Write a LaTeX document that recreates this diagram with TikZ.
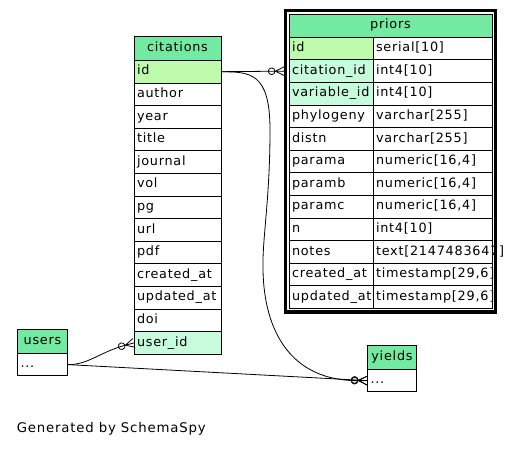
\documentclass[tikz,border=0pt]{standalone}
\usepackage{fontspec}
\setmainfont{DejaVu Sans}[LetterSpace=6]
\usepackage{xcolor}
\usetikzlibrary{arrows.meta,positioning,fit}

\definecolor{headgreen}{HTML}{73EAA1}
\definecolor{pkgreen}{HTML}{BEFBAD}
\definecolor{fkgreen}{HTML}{C6FCDB}

% crow's foot tip for the "many" end
\pgfdeclarearrow{
  name=Crow,
  parameters={\the\pgfarrowlength,\the\pgfarrowwidth},
  setup code={
    \pgfarrowssettipend{0pt}
    \pgfarrowssetbackend{-\pgfarrowlength}
    \pgfarrowssetlineend{-\pgfarrowlength}
    \pgfarrowssetvisualbackend{-\pgfarrowlength}
    \pgfarrowshullpoint{0pt}{.5\pgfarrowwidth}
    \pgfarrowshullpoint{0pt}{-.5\pgfarrowwidth}
    \pgfarrowshullpoint{-\pgfarrowlength}{0pt}
    \pgfarrowssavethe\pgfarrowlength
    \pgfarrowssavethe\pgfarrowwidth
  },
  drawing code={
    \pgfsetdash{}{0pt}
    \pgfpathmoveto{\pgfqpoint{0pt}{.5\pgfarrowwidth}}
    \pgfpathlineto{\pgfqpoint{-\pgfarrowlength}{0pt}}
    \pgfpathlineto{\pgfqpoint{0pt}{-.5\pgfarrowwidth}}
    \pgfpathmoveto{\pgfqpoint{-\pgfarrowlength}{0pt}}
    \pgfpathlineto{\pgfqpoint{0pt}{0pt}}
    \pgfusepathqstroke
  },
  defaults={length=9pt,width=9pt}
}

\begin{document}
\begin{tikzpicture}[x=1pt,y=-1pt,node distance=0pt,
  cell/.style={draw,line width=0.9pt,fill=white,inner xsep=3pt,inner ysep=0pt,outer sep=0pt,minimum height=22.6pt,text height=9.5pt,text depth=3pt,align=left,font=\fontsize{12.8pt}{15pt}\selectfont},
  head/.style={cell,fill=headgreen,align=center,minimum height=24.4pt},
  pkrow/.style={fill=pkgreen},
  fkrow/.style={fill=fkgreen},
  row/.style={},
  rel/.style={line width=0.8pt,-{Circle[open,length=7.5pt,width=7.5pt,line width=0.8pt] Crow[line width=0.8pt]}}]
\useasboundingbox (0,0) rectangle (512,449);

% citations
\node[head,minimum width=87pt,text width=81pt,anchor=north west] (cit-0) at (134,36) {citations};
\foreach \f/\s [count=\i, remember=\i as \j (initially 0)] in {id/pkrow,author/row,year/row,title/row,journal/row,vol/row,pg/row,url/row,pdf/row,created\_at/row,updated\_at/row,doi/row,user\_id/fkrow}
  \node[cell,\s,minimum width=87pt,text width=81pt,below=of cit-\j] (cit-\i) {\f};

% priors
\node[head,minimum width=203pt,text width=197pt,minimum height=23.2pt,anchor=north west] (pri-0) at (289,14) {priors};
\foreach \f/\t/\s [count=\i, remember=\i as \j (initially 0)] in {id/serial[10]/pkrow,citation\_id/int4[10]/fkrow,variable\_id/int4[10]/fkrow,phylogeny/varchar[255]/row,distn/varchar[255]/row,parama/{numeric[16,4]}/row,paramb/{numeric[16,4]}/row,paramc/{numeric[16,4]}/row,n/int4[10]/row,notes/text[2147483647]/row,created\_at/{timestamp[29,6]}/row,updated\_at/{timestamp[29,6]}/row}
{
  \node[cell,\s,minimum width=84pt,text width=78pt,anchor=north west] (pri-\i) at (pri-\j.south west) {\f};
  \node[cell,minimum width=119pt,text width=113pt,right=of pri-\i] (prt-\i) {\t};
}
\node[draw,line width=3.5pt,inner sep=3.6pt,fit=(pri-0)(prt-12)] (sel) {};

% users and yields
\node[head,minimum width=50.4pt,text width=44pt,minimum height=24pt,anchor=north west] (u-0) at (17.3,329.3) {users};
\node[cell,minimum width=50.4pt,text width=44pt,below=of u-0] (u-1) {...};
\node[head,minimum width=49.4pt,text width=43pt,minimum height=24.3pt,anchor=north west] (y-0) at (367.3,345) {yields};
\node[cell,minimum width=49.4pt,text width=43pt,below=of y-0] (y-1) {...};

% relations
\draw[rel,shorten >=4.6pt] (cit-1.east) -- (pri-2.west);
\draw[rel] (cit-1.east) .. controls (250,72) and (270,72) .. (270,130)
  .. controls (270,200) and (262,240) .. (263,270)
  .. controls (264,330) and (290,381) .. (y-1.west);
\draw[rel] (u-1.east) .. controls (88,365) and (100,352) .. (cit-13.west);
\draw[rel] (u-1.east) -- (y-1.west);

\node[anchor=base west,inner sep=0pt,font=\fontsize{13.3pt}{16pt}\selectfont] (gen) at (16.7,432.3) {Generated by SchemaSpy};
\end{tikzpicture}
\end{document}
